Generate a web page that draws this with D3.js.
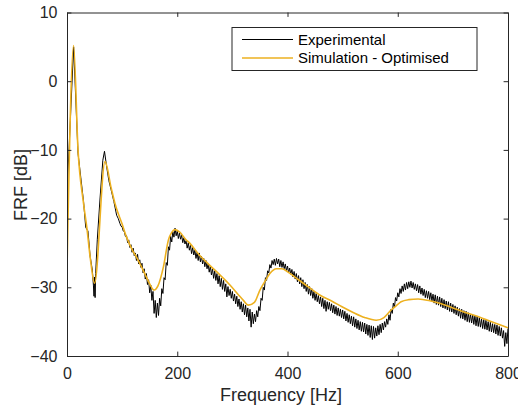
<!DOCTYPE html>
<html><head><meta charset="utf-8">
<script src="https://cdn.jsdelivr.net/npm/d3@7"></script>
<style>
body{margin:0;background:#fff;}
svg{display:block;font-family:"Liberation Sans",Arial,Helvetica,sans-serif;}
</style></head>
<body><svg id="c" width="518" height="407"></svg>
<script>
// ---- data ----
const xTicks = [0, 200, 400, 600, 800];
const yTicks = [-40, -30, -20, -10, 0, 10];
const seriesNames = ["Experimental", "Simulation - Optimised"];

// experimental, low-frequency part (Hz, dB)
const expLowFreq = [0, 12, 20, 25, 30, 34, 38, 42, 46, 48, 49, 50, 51, 52, 55, 60, 65, 68, 72, 76, 80, 85, 90, 93];
const expLowVal  = [-16.5, 5.0, -10.5, -14.0, -17.5, -21.3, -21.8, -25.5, -27.5, -29.8, -31.3, -28.5, -31.5, -28.0, -23.0, -17.0, -11.5, -10.2, -12.5, -14.5, -15.8, -17.5, -19.5, -20.0];

// experimental, 96..800 Hz every 2 Hz (dB)
const expStart = 96, expStep = 2;
const expVal = [
-20.7,-21.1,-21.2,-21.8,-21.9,-22.6,-22.5,-23.5,-23.1,-24.2,-23.8,-24.9,-24.3,-25.4,-25.0,-26.1,-25.2,-26.6,-26.0,-27.1,
-26.5,-27.9,-27.3,-28.8,-28.0,-29.6,-28.9,-30.8,-29.7,-31.9,-30.6,-33.8,-31.9,-34.4,-32.3,-34.1,-31.6,-32.7,-30.2,-30.9,
-28.6,-28.9,-26.4,-26.8,-24.1,-24.6,-22.6,-23.4,-21.9,-22.7,-21.4,-22.5,-21.8,-22.9,-22.1,-23.0,-22.4,-23.5,-22.8,-23.7,
-23.2,-24.3,-23.5,-24.6,-23.9,-25.1,-24.2,-25.3,-24.6,-25.8,-24.9,-26.1,-25.0,-26.3,-25.5,-26.6,-25.8,-27.0,-26.1,-27.3,
-26.6,-27.8,-26.9,-28.2,-27.3,-28.7,-27.6,-29.0,-28.0,-29.5,-28.3,-29.9,-28.7,-30.3,-29.0,-30.6,-29.5,-31.4,-29.9,-31.2,
-30.3,-31.6,-30.6,-32.0,-31.0,-32.4,-31.3,-32.8,-31.7,-33.2,-32.1,-33.6,-32.4,-34.0,-32.6,-34.3,-33.0,-34.9,-33.2,-35.8,
-33.6,-35.3,-33.9,-35.0,-33.4,-34.3,-32.8,-33.4,-31.6,-31.9,-30.0,-30.4,-28.6,-29.0,-27.6,-27.9,-26.7,-27.2,-26.1,-26.7,
-25.9,-26.8,-25.8,-26.6,-25.9,-27.0,-26.1,-27.1,-26.3,-27.3,-26.6,-27.6,-26.9,-27.9,-27.2,-28.1,-27.4,-28.5,-27.7,-28.8,
-28.0,-29.2,-28.3,-29.5,-28.6,-29.9,-28.9,-30.2,-29.3,-30.6,-29.6,-31.0,-29.9,-31.2,-30.2,-31.6,-30.6,-31.9,-30.9,-32.1,
-31.2,-32.4,-31.4,-32.8,-31.6,-33.1,-31.9,-33.5,-32.1,-33.2,-32.2,-33.4,-32.4,-33.7,-32.6,-33.9,-32.8,-34.1,-33.0,-34.2,
-33.2,-34.4,-33.3,-34.6,-33.5,-34.9,-33.8,-35.1,-34.0,-35.3,-34.2,-35.6,-34.3,-35.8,-34.6,-36.0,-34.8,-36.2,-35.0,-36.4,
-35.1,-36.5,-35.2,-36.8,-35.4,-37.0,-35.5,-37.3,-35.6,-37.6,-35.7,-37.4,-35.9,-37.1,-35.6,-36.9,-35.4,-36.6,-35.2,-36.2,
-35.0,-35.8,-34.6,-35.4,-34.0,-34.8,-33.2,-33.8,-32.3,-32.9,-31.5,-32.0,-30.8,-31.4,-30.2,-30.9,-29.8,-30.6,-29.5,-30.4,
-29.3,-30.2,-29.2,-30.0,-29.1,-30.1,-29.3,-30.3,-29.5,-30.5,-29.6,-30.8,-29.8,-31.0,-30.1,-31.2,-30.3,-31.5,-30.5,-31.6,
-30.6,-31.8,-30.8,-32.0,-31.0,-32.3,-31.1,-32.5,-31.3,-32.6,-31.4,-32.8,-31.6,-33.0,-31.8,-33.1,-32.0,-33.3,-32.1,-33.5,
-32.3,-33.6,-32.5,-33.8,-32.7,-34.0,-32.9,-34.2,-33.1,-34.5,-33.2,-34.6,-33.4,-34.8,-33.5,-35.0,-33.7,-35.1,-33.9,-35.2,
-34.0,-35.4,-34.1,-35.6,-34.2,-35.7,-34.4,-35.8,-34.6,-36.0,-34.7,-36.1,-34.8,-36.2,-35.0,-36.4,-35.1,-36.5,-35.3,-36.6,
-35.4,-36.8,-35.5,-37.0,-35.7,-37.1,-35.9,-37.4,-36.3,-38.6,-36.6,-38.2,-36.0
];

// simulation (Hz, dB)
const simFreq = [0, 12, 20, 30, 36, 42, 50, 69, 80, 87, 100, 108, 120, 126, 135, 141, 150, 158, 165, 175, 184, 190, 196, 205, 215, 223, 240, 259, 280, 296, 310, 320, 329, 340, 350, 360, 368, 380, 390, 401, 420, 437, 460, 480, 498, 520, 540, 561, 575, 588, 600, 606, 620, 637, 660, 679, 700, 720, 740, 760, 780, 800];
const simVal  = [-27.5, 5.2, -10.0, -17.8, -21.3, -25.6, -29.4, -11.7, -15.5, -17.8, -20.8, -22.7, -24.8, -25.6, -27.0, -28.0, -29.5, -30.4, -29.8, -27.0, -23.1, -22.0, -21.6, -22.0, -23.0, -23.6, -25.3, -26.8, -28.4, -29.7, -31.0, -31.9, -32.6, -32.2, -30.4, -29.0, -28.0, -27.3, -27.3, -27.8, -28.9, -29.9, -31.2, -32.0, -32.8, -33.7, -34.4, -34.8, -34.4, -33.3, -32.5, -32.1, -31.8, -31.7, -32.0, -32.4, -33.0, -33.6, -34.1, -34.7, -35.3, -35.9];

// ---- chart ----
const svg = d3.select("#c");
const L = 67, R = 508, T = 12.5, B = 356;
const x = d3.scaleLinear().domain([0, 800]).range([L, R]);
const y = d3.scaleLinear().domain([-40, 10]).range([B, T]);
const axisColor = "#262626";

svg.append("clipPath").attr("id","clip").append("rect")
  .attr("x", L).attr("y", T).attr("width", R-L).attr("height", B-T);

const expData = expLowFreq.map((f,i)=>[f, expLowVal[i]])
  .concat(expVal.map((v,i)=>[expStart + i*expStep, v]));
const simData = simFreq.map((f,i)=>[f, simVal[i]]);

const line = d3.line().x(d=>x(d[0])).y(d=>y(d[1]));
const g = svg.append("g").attr("clip-path","url(#clip)");
g.append("path").datum(expData).attr("d", line)
  .attr("fill","none").attr("stroke","#000").attr("stroke-width",1).attr("stroke-linejoin","round");
g.append("path").datum(simData).attr("d", line.curve(d3.curveMonotoneX))
  .attr("fill","none").attr("stroke","#EDB120").attr("stroke-width",1.6).attr("stroke-linejoin","round");

// axes
const tl = 4.4;
const axB = svg.append("g").attr("transform",`translate(0,${B})`)
  .call(d3.axisBottom(x).tickValues(xTicks).tickSizeInner(-tl).tickSizeOuter(0).tickPadding(12));
const axT = svg.append("g").attr("transform",`translate(0,${T})`)
  .call(d3.axisTop(x).tickValues(xTicks).tickSizeInner(-tl).tickSizeOuter(0).tickFormat(""));
const axL = svg.append("g").attr("transform",`translate(${L},0)`)
  .call(d3.axisLeft(y).tickValues(yTicks).tickSizeInner(-tl).tickSizeOuter(0).tickPadding(9.5));
const axR = svg.append("g").attr("transform",`translate(${R},0)`)
  .call(d3.axisRight(y).tickValues(yTicks).tickSizeInner(-tl).tickSizeOuter(0).tickFormat(""));
[axB, axT, axL, axR].forEach(a=>{
  a.selectAll("path").attr("stroke", axisColor).attr("stroke-width", 1);
  a.selectAll("line").attr("stroke", axisColor).attr("stroke-width", 1);
  a.selectAll("text").attr("fill", axisColor).style("font-size","16px")
    .style("font-family","'Liberation Sans',Arial,sans-serif");
});

// axis labels
svg.append("text").attr("x", 281).attr("y", 401).attr("text-anchor","middle")
  .attr("fill", axisColor).style("font-size","18px").text("Frequency [Hz]");
svg.append("text").attr("transform",`translate(26.7,185) rotate(-90)`).attr("text-anchor","middle")
  .attr("fill", axisColor).style("font-size","18px").text("FRF [dB]");

// legend
const lg = svg.append("g");
lg.append("rect").attr("x",232).attr("y",27.5).attr("width",245).attr("height",43)
  .attr("fill","#fff").attr("stroke",axisColor).attr("stroke-width",1);
const legColors = ["#000", "#EDB120"];
const legW = [1, 1.6];
seriesNames.forEach((n,i)=>{
  const yy = 39.5 + i*18.5;
  lg.append("line").attr("x1",242).attr("x2",293).attr("y1",yy).attr("y2",yy)
    .attr("stroke",legColors[i]).attr("stroke-width",legW[i]);
  lg.append("text").attr("x",298).attr("y",yy).attr("dy","0.35em")
    .attr("fill","#000").style("font-size","15px").text(n);
});
</script></body></html>
